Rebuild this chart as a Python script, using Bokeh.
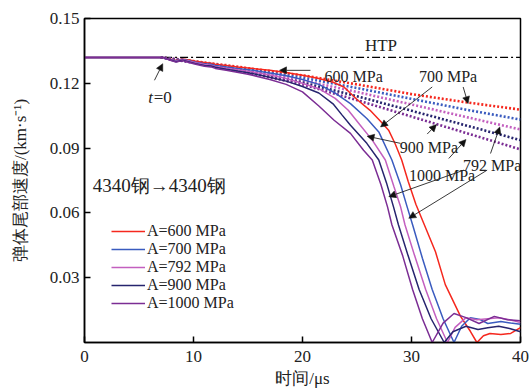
import math
from bokeh.plotting import figure
from bokeh.models import Range1d, FixedTicker, Label, Arrow, NormalHead, Legend
from bokeh.embed import file_html
from bokeh.resources import INLINE

# ---------------- data ----------------
series_names = ["A=600 MPa", "A=700 MPa", "A=792 MPa", "A=900 MPa", "A=1000 MPa"]
series_colors = ["#f5281e", "#3a5bbf", "#c35fbf", "#26246e", "#7b2d94"]

t_600 = [0, 7.2, 7.8, 8.4, 9.0, 9.6, 10.2, 11, 11.6, 12, 13, 14, 15, 15.5, 17, 18.5, 20, 21.5, 22.8, 23.8, 25, 26.2,
         27.2, 27.9, 28.5, 29.1, 29.7, 30.4, 31.3, 32.2, 33.1, 34.5, 35.4, 36.0, 36.6, 37.2, 38.2, 39.1, 40]
v_600 = [0.132, 0.132, 0.1312, 0.1306, 0.1313, 0.1308, 0.1302, 0.1296, 0.1293, 0.1288, 0.1282, 0.1276, 0.1271, 0.1268,
         0.1260, 0.1250, 0.1237, 0.1222, 0.1205, 0.1183, 0.1125, 0.1075, 0.1022, 0.0983, 0.0920, 0.0845, 0.0745,
         0.0640, 0.0530, 0.0420, 0.0268, 0.0121, 0.0052, 0.0, 0.0031, 0.0042, 0.0037, 0.0042, 0.0069]

t_700 = [0, 7.2, 7.8, 8.4, 9.0, 9.6, 10.2, 11, 11.6, 12, 13, 14, 15, 15.5, 17, 18.5, 20, 21.5, 23, 24.4, 25.9, 27.0,
         28.2, 29.0, 29.6, 30.1, 31.0, 31.9, 32.9, 33.9, 34.6, 35.4, 36.3, 37.0, 38.2, 39.1, 40]
v_700 = [0.132, 0.132, 0.1311, 0.1304, 0.1311, 0.1305, 0.1298, 0.1291, 0.1288, 0.1283, 0.1276, 0.1269, 0.1263, 0.1260,
         0.1248, 0.1235, 0.1218, 0.1195, 0.1155, 0.1106, 0.1037, 0.0975, 0.0845, 0.0730, 0.0628, 0.0545, 0.0390,
         0.0245, 0.0110, 0.0, 0.0075, 0.0115, 0.0106, 0.0088, 0.0097, 0.0090, 0.0084]

t_792 = [0, 7.2, 7.8, 8.4, 9.0, 9.6, 10.2, 11, 11.6, 12, 13, 14, 15, 15.5, 17, 18.5, 20, 21.5, 23, 24.2, 25.3, 26.4,
         27.6, 28.4, 29.0, 29.4, 30.3, 31.3, 32.3, 33.3, 34.0, 35.0, 36.0, 37.0, 38.0, 39.0, 40]
v_792 = [0.132, 0.132, 0.1310, 0.1302, 0.1309, 0.1302, 0.1295, 0.1287, 0.1284, 0.1278, 0.1270, 0.1263, 0.1256, 0.1252,
         0.1238, 0.1222, 0.1200, 0.1175, 0.1130, 0.1075, 0.1006, 0.0937, 0.0845, 0.0720, 0.0628, 0.0545, 0.0400,
         0.0245, 0.0110, 0.0, 0.0070, 0.0115, 0.0105, 0.0110, 0.0115, 0.0105, 0.0092]

t_900 = [0, 7.2, 7.8, 8.4, 9.0, 9.6, 10.2, 11, 11.6, 12, 13, 14, 15, 15.5, 17, 18.5, 20, 21.5, 22.8, 23.6, 24.4, 25.9,
         27.0, 27.7, 28.35, 28.8, 29.7, 30.7, 31.8, 33.0, 33.8, 35.0, 36.1, 37.0, 38.0, 39.0, 40]
v_900 = [0.132, 0.132, 0.1309, 0.1300, 0.1307, 0.1299, 0.1291, 0.1283, 0.1280, 0.1274, 0.1265, 0.1257, 0.1249, 0.1244,
         0.1228, 0.1210, 0.1185, 0.1155, 0.1105, 0.1055, 0.1006, 0.0922, 0.0845, 0.0740, 0.0628, 0.0545, 0.0400,
         0.0245, 0.0110, 0.0, 0.0050, 0.0075, 0.0060, 0.0068, 0.0075, 0.0065, 0.0050]

t_1000 = [0, 7.2, 7.8, 8.4, 9.0, 9.6, 10.2, 11, 11.6, 12, 13, 14, 15, 15.5, 17, 18.5, 20, 21.5, 22.9, 24.4, 25.6, 26.4,
          27.2, 27.8, 28.2, 29.2, 30.1, 31.0, 31.9, 32.9, 33.9, 35.0, 36.2, 37.6, 38.8, 40]
v_1000 = [0.132, 0.132, 0.1308, 0.1298, 0.1305, 0.1296, 0.1288, 0.1279, 0.1276, 0.1269, 0.1260, 0.1251, 0.1242, 0.1236,
          0.1218, 0.1195, 0.1160, 0.1095, 0.1029, 0.0968, 0.0890, 0.0845, 0.0730, 0.0628, 0.0545, 0.0400, 0.0245,
          0.0110, 0.0, 0.0090, 0.0134, 0.0115, 0.0088, 0.0121, 0.0105, 0.0101]

# dotted (extrapolated) curves
td = [7, 10, 13, 16, 20, 25, 30, 35, 40]
vd_600 = [0.132, 0.1303, 0.1284, 0.1263, 0.1237, 0.1195, 0.1150, 0.1112, 0.1078]
vd_700 = [0.132, 0.1301, 0.1280, 0.1256, 0.1226, 0.1178, 0.1128, 0.1078, 0.1032]
vd_792 = [0.132, 0.1299, 0.1276, 0.1250, 0.1214, 0.1160, 0.1102, 0.1044, 0.0986]
vd_900 = [0.132, 0.1297, 0.1272, 0.1244, 0.1204, 0.1140, 0.1073, 0.1005, 0.0937]
vd_1000 = [0.132, 0.1295, 0.1268, 0.1238, 0.1195, 0.1122, 0.1046, 0.0970, 0.0894]

htp_t = [7.3, 40]
htp_v = [0.132, 0.132]

x_ticks = [0, 10, 20, 30, 40]
y_ticks = [0.03, 0.06, 0.09, 0.12, 0.15]

solid_t = [t_600, t_700, t_792, t_900, t_1000]
solid_v = [v_600, v_700, v_792, v_900, v_1000]
dotted_v = [vd_600, vd_700, vd_792, vd_900, vd_1000]

SERIF = "Liberation Serif"

# ---------------- figure ----------------
p = figure(width=531, height=390, output_backend="svg", toolbar_location=None,
           x_range=Range1d(0, 40), y_range=Range1d(0, 0.15),
           min_border_left=84, min_border_right=11, min_border_top=18, min_border_bottom=47)
p.background_fill_color = "white"
p.border_fill_color = "white"
p.grid.visible = False
p.outline_line_color = "black"
p.outline_line_width = 1.5

for ax in (p.xaxis[0], p.yaxis[0]):
    ax.axis_line_width = 1.5
    ax.major_tick_in = 6
    ax.major_tick_out = 0
    ax.major_tick_line_width = 1.5
    ax.minor_tick_line_color = None
    ax.major_label_text_font = SERIF
    ax.major_label_text_font_size = "17px"
    ax.major_label_text_color = "#222222"
    ax.axis_label_text_font = SERIF
    ax.axis_label_text_font_size = "17px"
    ax.axis_label_text_font_style = "normal"
    ax.axis_label_text_color = "#222222"

p.xaxis.ticker = FixedTicker(ticks=x_ticks)
p.yaxis.ticker = FixedTicker(ticks=y_ticks)
p.xaxis.major_label_standoff = 8
p.yaxis.major_label_standoff = 5
p.xaxis.axis_label = "时间/μs"
p.yaxis.axis_label = "弹体尾部速度/(km·s⁻¹)"
p.xaxis.axis_label_standoff = 4
p.yaxis.axis_label_standoff = 17

# HTP line
p.line(htp_t, htp_v, line_color="black", line_width=1.4, line_dash="8 3 2 3")

# dotted lines
for vd, c in zip(dotted_v, series_colors):
    p.line(td, vd, line_color=c, line_width=2.6, line_dash="2 2")

# solid lines
renderers = []
for tt, vv, c in zip(solid_t, solid_v, series_colors):
    r = p.line(tt, vv, line_color=c, line_width=1.5)
    renderers.append(r)

legend = Legend(items=[(n, [r]) for n, r in zip(series_names, renderers)],
                location=(27, 30), padding=0, margin=0, spacing=0,
                label_height=16, glyph_height=16, glyph_width=34, label_standoff=2,
                border_line_alpha=0, background_fill_alpha=0,
                label_text_font=SERIF, label_text_font_size="16px", label_text_color="#222222")
p.add_layout(legend)

# ---------------- text annotations ----------------
def lab(x, y, text, size="16px", align="center", style="normal", baseline="middle"):
    p.add_layout(Label(x=x, y=y, text=text, text_font=SERIF, text_font_size=size,
                       text_align=align, text_baseline=baseline, text_font_style=style,
                       text_color="#222222"))

lab(27.2, 0.1375, "HTP", size="17px")
lab(24.7, 0.1232, "600 MPa")
lab(33.35, 0.1232, "700 MPa")
lab(31.6, 0.0905, "900 MPa")
lab(32.8, 0.0775, "1000 MPa")
lab(37.4, 0.0821, "792 MPa")
lab(0.75, 0.0729, "4340钢→4340钢", size="19px", align="left")
lab(5.85, 0.1135, "t", size="17px", align="left", style="italic")
lab(6.35, 0.1135, "=0", size="17px", align="left")

def arrow(x0, y0, x1, y1):
    p.add_layout(Arrow(x_start=x0, y_start=y0, x_end=x1, y_end=y1, line_color="#222222", line_width=0.9,
                       end=NormalHead(size=7, fill_color="#111111", line_color="#111111", line_width=0.5)))

arrow(6.42, 0.1214, 7.18, 0.1291)     # t=0
arrow(20.73, 0.1260, 17.89, 0.1260)   # 600 MPa
arrow(31.9, 0.1183, 27.16, 0.0998)    # 700 solid
arrow(34.74, 0.1183, 35.19, 0.1106)   # 700 dotted
arrow(28.99, 0.0922, 25.93, 0.0955)   # 900 solid
arrow(31.44, 0.0965, 32.29, 0.1009)   # 900 dotted a
arrow(33.42, 0.0852, 35.0, 0.0940)    # 900 dotted b
arrow(37.25, 0.0875, 38.1, 0.0998)    # 792 dotted
arrow(36.94, 0.0798, 29.75, 0.0575)   # 792 solid
arrow(34.8, 0.0798, 27.92, 0.0675)    # 1000 solid

open("out.html", "w").write(file_html(p, INLINE))
